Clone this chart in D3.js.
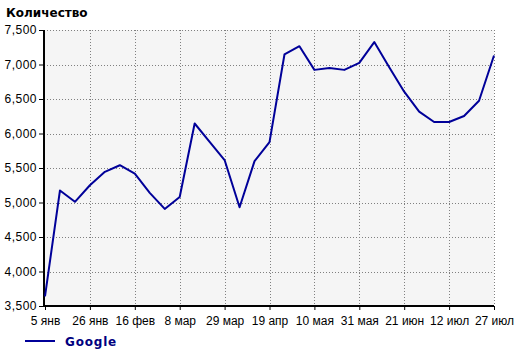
<!DOCTYPE html>
<html>
<head>
<meta charset="utf-8">
<script src="https://cdn.jsdelivr.net/npm/d3@7"></script>
<style>
  body { margin: 0; background: #fff; }
  svg { display: block; }
  .tick text { font-family: "Liberation Sans", Arial, sans-serif; font-size: 12px; fill: #000; }
</style>
</head>
<body>
<div id="chart"></div>
<script>
// weekly points, labels every 3rd point
const values = [3640, 5175, 5010, 5250, 5445, 5540, 5420, 5140, 4907, 5080,
  6145, 5880, 5615, 4932, 5600, 5875, 7145, 7265, 6922, 6950,
  6922, 7023, 7325, 6960, 6606, 6316, 6167, 6167, 6254, 6475, 7130];
const tickLabels = ["5 янв", "26 янв", "16 фев", "8 мар", "29 мар", "19 апр",
  "10 мая", "31 мая", "21 июн", "12 июл", "27 июл"];
const yTicks = [3500, 4000, 4500, 5000, 5500, 6000, 6500, 7000, 7500];
const seriesName = "Google";

const W = 520, H = 353;
const m = { top: 30, right: 26, bottom: 47, left: 44 };
const innerW = W - m.left - m.right;
const innerH = H - m.top - m.bottom;

const svg = d3.select("#chart").append("svg")
  .attr("width", W).attr("height", H);

const g = svg.append("g").attr("transform", `translate(${m.left},${m.top})`);

const x = d3.scaleLinear().domain([0, values.length - 1]).range([1, innerW]);
const y = d3.scaleLinear().domain([3500, 7500]).range([innerH, 0]);

// plot background
g.append("rect")
  .attr("width", innerW).attr("height", innerH)
  .attr("fill", "#f5f5f5");

// grid
const tickIdx = tickLabels.map((d, i) => Math.min(i * 3, values.length - 1));
g.append("g").selectAll("line.v")
  .data(tickIdx.slice(1))
  .enter().append("line")
    .attr("x1", d => Math.round(x(d)) + 0.5).attr("x2", d => Math.round(x(d)) + 0.5)
    .attr("y1", 0).attr("y2", innerH)
    .attr("stroke", "#808080").attr("stroke-dasharray", "1,2");
g.append("g").selectAll("line.h")
  .data(yTicks.slice(1))
  .enter().append("line")
    .attr("x1", 0).attr("x2", innerW)
    .attr("y1", d => Math.round(y(d)) + 0.5).attr("y2", d => Math.round(y(d)) + 0.5)
    .attr("stroke", "#808080").attr("stroke-dasharray", "1,2");

// axes
const yAxis = g.append("g")
  .call(d3.axisLeft(y).tickValues(yTicks).tickFormat(d3.format(",")).tickSize(5).tickPadding(2));
yAxis.select(".domain").remove();
yAxis.selectAll(".tick line").attr("stroke", "#000");
yAxis.selectAll(".tick text").attr("letter-spacing", "0.5px");

const xAxis = g.append("g")
  .attr("transform", `translate(0,${innerH})`)
  .call(d3.axisBottom(x).tickValues(tickIdx).tickFormat((d, i) => tickLabels[i]).tickSize(4).tickPadding(6));
xAxis.select(".domain").remove();
xAxis.selectAll(".tick line").attr("stroke", "#000");

g.append("line")
  .attr("x1", 0).attr("x2", 0).attr("y1", 0).attr("y2", innerH + 1)
  .attr("stroke", "#000").attr("stroke-width", 2);
g.append("line")
  .attr("x1", -1).attr("x2", innerW).attr("y1", innerH).attr("y2", innerH)
  .attr("stroke", "#000").attr("stroke-width", 2);

// series
g.append("path")
  .datum(values)
  .attr("fill", "none")
  .attr("stroke", "#000099")
  .attr("stroke-width", 2)
  .attr("stroke-linejoin", "round")
  .attr("d", d3.line().x((d, i) => x(i)).y(d => y(d)));

// title
svg.append("text")
  .attr("x", 6).attr("y", 17)
  .attr("font-family", "'DejaVu Sans', Verdana, sans-serif")
  .attr("font-size", 12).attr("font-weight", "bold")
  .text("Количество");

// legend
const leg = svg.append("g").attr("transform", "translate(25,341)");
leg.append("line").attr("x1", 0).attr("x2", 30).attr("y1", 0).attr("y2", 0)
  .attr("stroke", "#000099").attr("stroke-width", 2);
leg.append("text")
  .attr("x", 40).attr("y", 5)
  .attr("font-family", "'DejaVu Sans', Verdana, sans-serif")
  .attr("font-size", 12).attr("font-weight", "bold")
  .attr("letter-spacing", "0.8px")
  .attr("fill", "#000080")
  .text(seriesName);
</script>
</body>
</html>
